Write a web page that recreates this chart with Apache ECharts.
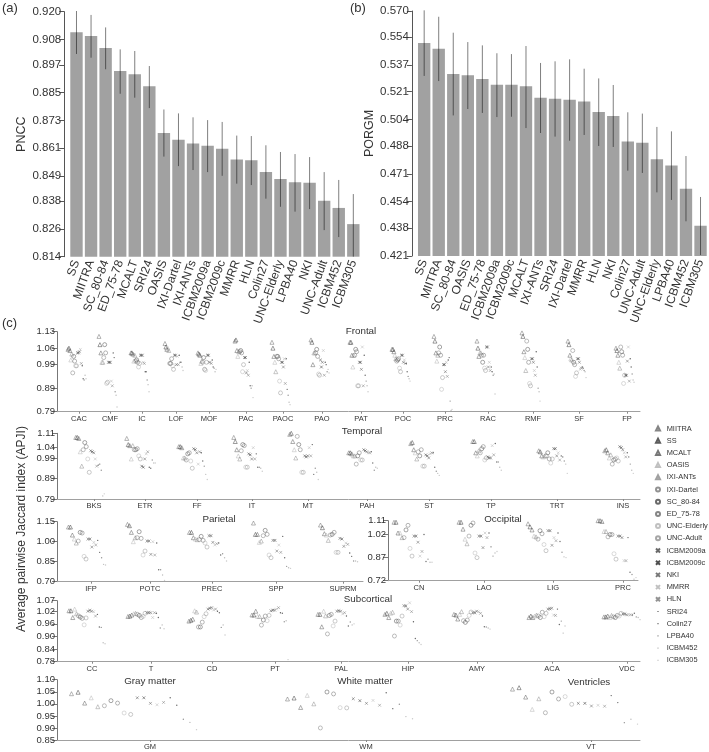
<!DOCTYPE html>
<html><head><meta charset="utf-8">
<style>html,body{margin:0;padding:0;background:#fff}#c{width:709px;height:752px}</style>
<script src="https://cdn.jsdelivr.net/npm/echarts@6/dist/echarts.min.js"></script>
</head><body><div id="c"></div>
<script>
// ---------- panels (a), (b)
const pnccNames=['SS','MIITRA','SC_80-84','ED_75-78','MCALT','SRI24','OASIS','IXI-Dartel','IXI-ANTs','ICBM2009a','ICBM2009c','MMRR','HLN','Colin27','UNC-Elderly','LPBA40','NKI','UNC-Adult','ICBM452','ICBM305'];
const pnccMean=[.9111,.9095,.9043,.8943,.8929,.8877,.8675,.8646,.8630,.8620,.8607,.8561,.8557,.8506,.8476,.8462,.8460,.8382,.8351,.8281];
const pnccHigh=[.9203,.9186,.9132,.9037,.9030,.8965,.8777,.8760,.8743,.8731,.8723,.8664,.8662,.8622,.8593,.8584,.8571,.8506,.8472,.8411];
const pnccLow=[.9017,.9001,.8951,.8845,.8828,.8783,.8573,.8532,.8515,.8506,.8490,.8456,.8450,.8391,.8356,.8335,.8346,.8255,.8225,.8140];
const pnccTicks=[.814,.826,.838,.849,.861,.873,.885,.897,.908,.920];
const porgmNames=['SS','MIITRA','SC_80-84','OASIS','ED_75-78','ICBM2009a','ICBM2009c','MCALT','IXI-ANTs','SRI24','IXI-Dartel','MMRR','HLN','NKI','Colin27','UNC-Adult','UNC-Elderly','LPBA40','ICBM452','ICBM305'];
const porgmMean=[.5505,.5471,.5317,.5309,.5286,.5252,.5252,.5242,.5173,.5167,.5161,.5149,.5086,.5061,.4907,.4899,.4798,.4761,.4619,.4394];
const porgmHigh=[.5704,.5665,.5568,.5511,.5491,.5443,.5438,.5487,.5384,.5394,.5406,.5349,.5290,.5250,.5084,.5076,.4995,.4968,.4818,.4569];
const porgmLow=[.5305,.5274,.5065,.5104,.5080,.5055,.5057,.4988,.4958,.4936,.4911,.4946,.4879,.4873,.4729,.4715,.4597,.4551,.4421,.4216];
const porgmTicks=[.421,.438,.454,.471,.488,.504,.521,.537,.554,.570];

// ---------- panel (c): one row per region, one value per method
const methods=['MIITRA','SS','MCALT','OASIS','IXI-ANTs','IXI-Dartel','SC_80-84','ED_75-78','UNC-Elderly','UNC-Adult','ICBM2009a','ICBM2009c','NKI','MMRR','HLN','SRI24','Colin27','LPBA40','ICBM452','ICBM305'];
const frontalRegions=['CAC','CMF','IC','LOF','MOF','PAC','PAOC','PAO','PAT','POC','PRC','RAC','RMF','SF','FP'];
const frontalPlace=[22,53,85,119,152,189,226,265,304,346,388,431,476,522,570];
const frontalTicks=[.79,.89,.99,1.06,1.13];
const frontalValues=[
[1.055,1.06,1.05,1.01,1.035,.955,1.025,1.005,.985,.985,1.04,1.04,1.045,1.055,.995,.985,.93,.925,.945,.93],
[1.11,1.075,1.04,1.0,1.0,1.02,1.075,1.04,.91,.915,1.0,1.0,1.0,.92,.9,1.04,1.02,.875,.86,.81],
[1.04,1.04,1.035,1.005,1.03,1.005,1.01,1.0,.98,.995,1.03,1.03,1.03,1.0,.995,.96,.96,.925,.905,.875],
[1.08,1.065,1.055,1.06,1.05,.995,.995,1.015,.985,.97,1.03,1.03,.99,1.025,.99,1.03,1.0,1.0,.98,.965],
[1.04,1.035,1.03,.995,1.005,1.0,1.02,.97,.965,1.0,1.03,1.03,1.0,1.0,.995,1.01,.98,.975,.96,.97],
[1.09,1.095,1.05,1.025,1.045,1.045,1.05,1.04,.96,.99,1.02,1.02,.955,.965,.945,1.0,.9,.89,.9,.85],
[1.085,1.06,1.025,1.0,.96,1.025,1.025,1.015,.92,.87,1.0,1.0,.98,1.015,.91,1.015,.885,.86,.83,.82],
[1.095,1.085,.99,1.04,1.04,1.04,1.055,1.025,.95,.945,1.01,.98,1.0,1.05,.945,1.0,.99,.96,.97,.955],
[1.085,1.085,1.03,.98,1.03,1.03,1.055,1.045,.9,.9,1.0,1.0,.97,1.065,.9,1.03,.945,.92,.9,.875],
[1.055,1.055,1.045,1.03,1.015,1.005,1.01,1.015,.975,.96,1.03,1.03,1.0,1.01,.995,.995,.96,.94,.93,.92],
[1.11,1.09,1.04,1.005,1.03,1.04,1.065,1.03,.885,.935,.99,.99,.96,1.0,.94,1.01,1.02,.835,.795,.8],
[1.09,1.06,1.025,1.04,1.04,1.03,1.0,1.03,.975,.965,1.065,1.065,.98,1.0,.965,.98,.96,.945,.95,.865],
[1.125,1.11,1.045,1.02,.965,1.09,1.055,1.0,.91,.9,1.015,1.015,1.0,.965,.945,1.045,.98,.89,.875,.835],
[1.09,1.075,1.03,1.015,1.01,1.05,1.0,.99,.94,.955,1.015,1.015,1.0,.97,.975,.98,.975,.965,.96,.935],
[1.06,1.05,1.03,1.0,.975,1.065,1.045,1.03,.91,.945,.945,.945,1.005,1.065,.92,1.015,.98,.95,.925,.915]];
const temporalRegions=['BKS','ETR','FF','IT','MT','PAH','ST','TP','TRT','INS'];
const temporalPlace=[37,88,140,195,251,310,372,434,500,566];
const temporalTicks=[.79,.89,.99,1.04,1.11];
const temporalValues=[
[1.09,1.09,1.085,1.02,.95,1.03,1.065,1.045,.985,.92,1.025,1.02,1.015,.985,.95,.955,.96,.93,.805,.815],
[1.085,1.055,1.05,.985,1.05,1.03,1.03,1.035,1.0,.985,.95,.945,.985,1.01,1.02,.945,.94,.98,.965,.965],
[1.045,1.045,1.04,.99,.99,.98,1.01,1.015,.975,.94,1.035,1.03,1.015,.96,1.02,1.015,.975,.95,.91,.885],
[1.09,1.07,1.03,1.0,.985,1.025,1.055,1.05,.945,.945,1.01,1.005,.985,1.04,.985,1.01,.945,.945,.94,.925],
[1.105,1.11,1.07,1.03,.99,1.095,1.055,1.03,.92,.92,1.0,.995,1.0,1.04,1.0,1.055,.91,.94,.92,.885],
[1.015,1.015,1.01,1.0,1.0,.96,1.0,1.015,.98,.98,1.03,1.025,1.02,1.015,1.015,1.02,.965,.93,.945,.94],
[1.06,1.065,1.03,1.015,.985,1.02,1.0,1.03,.95,.95,1.005,1.0,.99,1.01,1.015,1.015,.945,.925,.915,.905],
[1.07,1.07,1.015,1.0,1.025,1.015,1.035,1.045,.98,.99,.995,.99,.99,1.05,1.005,1.06,.97,.97,.945,.93],
[1.025,1.02,1.0,.995,1.0,1.0,1.015,.985,.965,.985,1.035,1.035,1.0,1.015,.98,1.0,.995,.975,.96,.915],
[1.025,1.03,1.015,.99,1.005,.96,.98,.985,.99,.975,1.045,1.04,1.03,1.015,.995,1.015,.995,.96,.93,.915]];
const parietalRegions=['IFP','POTC','PREC','SPP','SUPRM'];
const parietalPlace=[34,93,155,219,286];
const parietalTicks=[.70,.85,1.00,1.15];
const parietalValues=[
[1.11,1.11,1.05,1.02,.99,1.005,1.07,1.065,.89,.87,1.02,1.02,.96,.995,.975,1.01,.92,.88,.83,.825],
[1.13,1.12,1.07,1.0,1.03,1.03,1.075,1.025,.9,.93,1.005,1.005,.905,1.0,.9,.99,.79,.79,.75,.71],
[1.07,1.07,1.03,1.02,1.015,1.015,1.04,1.01,.99,.96,1.045,1.045,.995,.975,.985,.99,.9,.91,.88,.855],
[1.14,1.055,1.055,.995,1.005,1.045,1.085,1.055,.9,.88,1.01,1.01,.93,.975,.92,1.04,.88,.815,.805,.8],
[1.125,1.105,1.06,1.05,1.01,1.05,1.055,1.07,.92,.92,1.025,1.02,.965,.99,.98,.915,.89,.855,.855,.85]];
const occipitalRegions=['CN','LAO','LIG','PRC'];
const occipitalPlace=[31,96,165,235];
const occipitalTicks=[.72,.87,1.02,1.11];
const occipitalValues=[
[1.1,1.1,1.03,1.03,1.0,1.0,1.05,1.08,.93,.88,1.01,1.01,.97,.88,.91,1.02,.845,.86,.84,.84],
[1.1,1.1,1.055,.99,.96,1.01,1.08,1.095,.9,.87,1.01,1.01,.935,1.03,1.0,1.03,.94,.88,.9,.91],
[1.09,1.07,1.05,1.01,1.005,.99,1.045,1.025,.955,.915,1.045,1.045,.95,1.0,.98,1.03,.975,.905,.875,.87],
[1.11,1.11,1.105,1.04,1.04,1.005,1.02,1.02,.895,.86,1.01,1.01,1.0,.85,.85,1.0,.775,.76,.73,.74]];
const subcorticalRegions=['CC','T','CD','PT','PAL','HIP','AMY','ACA','VDC'];
const subcorticalPlace=[35,94,155,218,284,351,420,495,570];
const subcorticalTicks=[.78,.84,.90,.96,1.02,1.07];
const subcorticalValues=[
[1.022,1.022,.99,1.03,1.008,.998,.992,.986,.955,.988,1.02,1.024,1.02,1.018,.997,1.005,.945,.943,.87,.865],
[.995,.997,1.002,1.008,1.01,1.005,1.0,.99,.995,1.01,1.013,1.013,1.013,.99,1.013,1.01,.99,.94,.955,.937],
[.973,.977,.982,1.022,1.016,.945,.945,.968,.994,1.008,1.03,1.034,1.037,1.026,1.03,1.02,1.013,.943,.955,.907],
[1.002,1.002,1.02,.995,.995,.954,.978,.997,.975,1.0,1.022,1.025,1.025,1.03,1.037,1.013,1.01,.97,.975,.79],
[1.005,1.005,.946,1.02,.998,.912,1.0,1.005,.95,.973,1.02,1.022,1.02,1.007,1.013,.997,.95,.969,.955,.96],
[1.005,1.01,.99,1.01,1.015,.902,.973,.973,.954,.997,1.046,1.045,1.03,1.06,1.018,.97,.89,.88,.87,.862],
[1.005,1.002,.983,1.005,1.018,.975,.967,.978,1.0,1.016,1.013,1.013,1.02,1.018,1.01,.997,.946,.945,.94,.935],
[.99,.997,.99,.997,1.002,.997,.99,1.015,.994,1.01,1.03,1.032,1.034,1.002,1.0,1.03,.957,.973,.916,.95],
[.993,.993,.997,.99,1.0,.993,.99,1.0,.997,1.01,1.007,1.007,1.003,1.003,1.003,1.002,1.01,.993,.99,.98]];
const tissueRegions=['GM','WM','VT'];
const tissuePlace=[93,309,534];
const tissueTicks=[.85,.90,.95,1.00,1.05,1.10];
const tissueValues=[
[1.042,1.048,1.003,1.025,.988,.992,1.013,1.003,.962,.956,1.025,1.025,1.002,.996,1.006,1.025,.994,.936,.923,.893],
[1.02,1.024,.985,1.035,1.0,.90,1.049,1.041,.984,.983,1.021,1.013,1.002,1.014,.994,1.046,.98,.998,.947,.938],
[1.061,1.067,1.028,.977,1.021,.963,1.049,1.02,1.03,.998,1.002,1.002,.991,.994,.99,1.034,1.005,.922,.936,.916]];

// ---------- styles
const TRI='triangle',CIR='circle',CROSS='path://M0,0L10,10M10,0L0,10',DOT='circle';
const DOTICON='path://M0,0L0,0M10,10L10,10M3.5,3.5L6.5,3.5L6.5,6.5L3.5,6.5Z';
const shapes=[TRI,TRI,TRI,TRI,TRI,CIR,CIR,CIR,CIR,CIR,CROSS,CROSS,CROSS,CROSS,CROSS,DOT,DOT,DOT,DOT,DOT];
const greys=['#666','#333','#555','#b0b0b0','#888','#777','#444','#666','#b0b0b0','#909090','#444','#222','#555','#b0b0b0','#777','#333','#444','#777','#aaa','#bbb'];
const font='"Liberation Sans",Arial,sans-serif';

const grids=[],xAxes=[],yAxes=[],series=[];
function barPanel(names,mean,low,high,ticks,yName,left,top,width,height){
  const i=grids.length;
  grids.push({left,top,width,height});
  xAxes.push({type:'category',gridIndex:i,data:names,axisLine:{show:false},axisTick:{show:false},
    axisLabel:{rotate:70,interval:0,fontSize:12,color:'#333',margin:4,fontFamily:font}});
  yAxes.push({type:'value',gridIndex:i,min:ticks[0],max:ticks[ticks.length-1],offset:5,splitLine:{show:false},
    name:yName,nameLocation:'middle',nameGap:35,nameTextStyle:{fontSize:12.5,color:'#333',fontFamily:font},
    axisLine:{show:true,lineStyle:{color:'#555'}},
    axisTick:{show:true,length:5,customValues:ticks,lineStyle:{color:'#555'}},
    axisLabel:{customValues:ticks,fontSize:11.5,color:'#333',margin:3,fontFamily:font,formatter:v=>v.toFixed(3)}});
  series.push({type:'bar',xAxisIndex:i,yAxisIndex:i,data:mean,barCategoryGap:'15%',itemStyle:{color:'#a1a1a1'},silent:true});
  series.push({type:'custom',xAxisIndex:i,yAxisIndex:i,silent:true,z:5,
    data:names.map((n,k)=>[k,low[k],high[k]]),
    encode:{x:0,y:[1,2]},
    renderItem(p,api){const a=api.coord([api.value(0),api.value(1)]),b=api.coord([api.value(0),api.value(2)]);
      return {type:'line',shape:{x1:a[0],y1:a[1],x2:b[0],y2:b[1]},style:{stroke:'rgba(0,0,0,0.5)',lineWidth:1}};}});
}
function stripPanel(regions,place,values,ticks,left,top,width,height,shift,step){
  const i=grids.length;
  grids.push({left,top,width,height});
  xAxes.push({type:'value',gridIndex:i,min:0,max:width,splitLine:{show:false},
    axisLine:{show:true,onZero:false,lineStyle:{color:'#a0a0a0',width:1}},
    axisTick:{show:true,length:2,customValues:place,lineStyle:{color:'#888'}},
    axisLabel:{customValues:place,fontSize:7.5,color:'#333',margin:3,fontFamily:font,hideOverlap:false,
      formatter:v=>regions[place.indexOf(v)]}});
  yAxes.push({type:'value',gridIndex:i,min:ticks[0],max:ticks[ticks.length-1],splitLine:{show:false},
    axisLine:{show:true,onZero:false,lineStyle:{color:'#777'}},
    axisTick:{show:true,length:5,customValues:ticks,lineStyle:{color:'#777'}},
    axisLabel:{customValues:ticks,fontSize:9.5,color:'#333',margin:2,fontFamily:font,formatter:v=>v.toFixed(2)}});
  methods.forEach((m,k)=>{
    const fam=shapes[k],dot=k>=15,cross=k>=10&&k<15;
    series.push({type:'scatter',name:m,xAxisIndex:i,yAxisIndex:i,silent:true,symbol:fam,
      symbolSize:dot?1.4:(cross?2.8:4),
      itemStyle:dot?{color:greys[k],borderWidth:0}:{color:'rgba(255,255,255,0)',borderColor:greys[k],borderWidth:.6},
      data:regions.map((r,j)=>[place[j]+shift+(k-9.5)*step,values[j][k]])});
  });
}
barPanel(pnccNames,pnccMean,pnccLow,pnccHigh,pnccTicks,'PNCC',69.2,11.7,291.4,245);
barPanel(porgmNames,porgmMean,porgmLow,porgmHigh,porgmTicks,'PORGM',416.9,11,290.9,245);
stripPanel(frontalRegions,frontalPlace,frontalValues,frontalTicks,57,331.7,583,80,-2,.95);
stripPanel(temporalRegions,temporalPlace,temporalValues,temporalTicks,57,433.3,583,65.7,-4,1.5);
stripPanel(parietalRegions,parietalPlace,parietalValues,parietalTicks,57,521.7,306,60,-4,1.95);
stripPanel(occipitalRegions,occipitalPlace,occipitalValues,occipitalTicks,388,520.7,250,60,-6,2.0);
stripPanel(subcorticalRegions,subcorticalPlace,subcorticalValues,subcorticalTicks,57,600.7,583,61,-5,1.9);
stripPanel(tissueRegions,tissuePlace,tissueValues,tissueTicks,57,679.7,583,60.3,-16,6.58);

const t=(text,left,top,fontSize,align)=>({text,left,top,padding:0,textAlign:align||'center',
  textStyle:{fontSize:fontSize||9.8,fontWeight:'normal',color:'#333',fontFamily:font}});
const chart=echarts.init(document.getElementById('c'),null,{renderer:'canvas'});
chart.setOption({
  animation:false,backgroundColor:'#fff',
  title:[t('(a)',2,2,13,'left'),t('(b)',350,2,13,'left'),t('(c)',2,317,13,'left'),
    t('Frontal',361,326),t('Temporal',362,426),t('Parietal',219,514),t('Occipital',503,514),
    t('Subcortical',368,594),t('Gray matter',150,676),t('White matter',365,676),t('Ventricles',589,677)],
  grid:grids,xAxis:xAxes,yAxis:yAxes,series,
  legend:{orient:'vertical',left:655,top:423.5,padding:0,itemWidth:4,itemHeight:4,itemGap:2.2,
    selectedMode:false,textStyle:{fontSize:7.4,color:'#333',lineHeight:10,padding:[0,0,0,1.7],fontFamily:font},
    data:methods.map((m,k)=>k>=15?{name:m,icon:DOTICON}:{name:m})},
  graphic:[{type:'text',x:22,y:529,rotation:Math.PI/2,silent:true,
    style:{text:'Average pairwise Jaccard index (APJI)',fontSize:12,fill:'#333',fontFamily:font,textAlign:'center',textVerticalAlign:'middle'}}]
});
</script></body></html>
